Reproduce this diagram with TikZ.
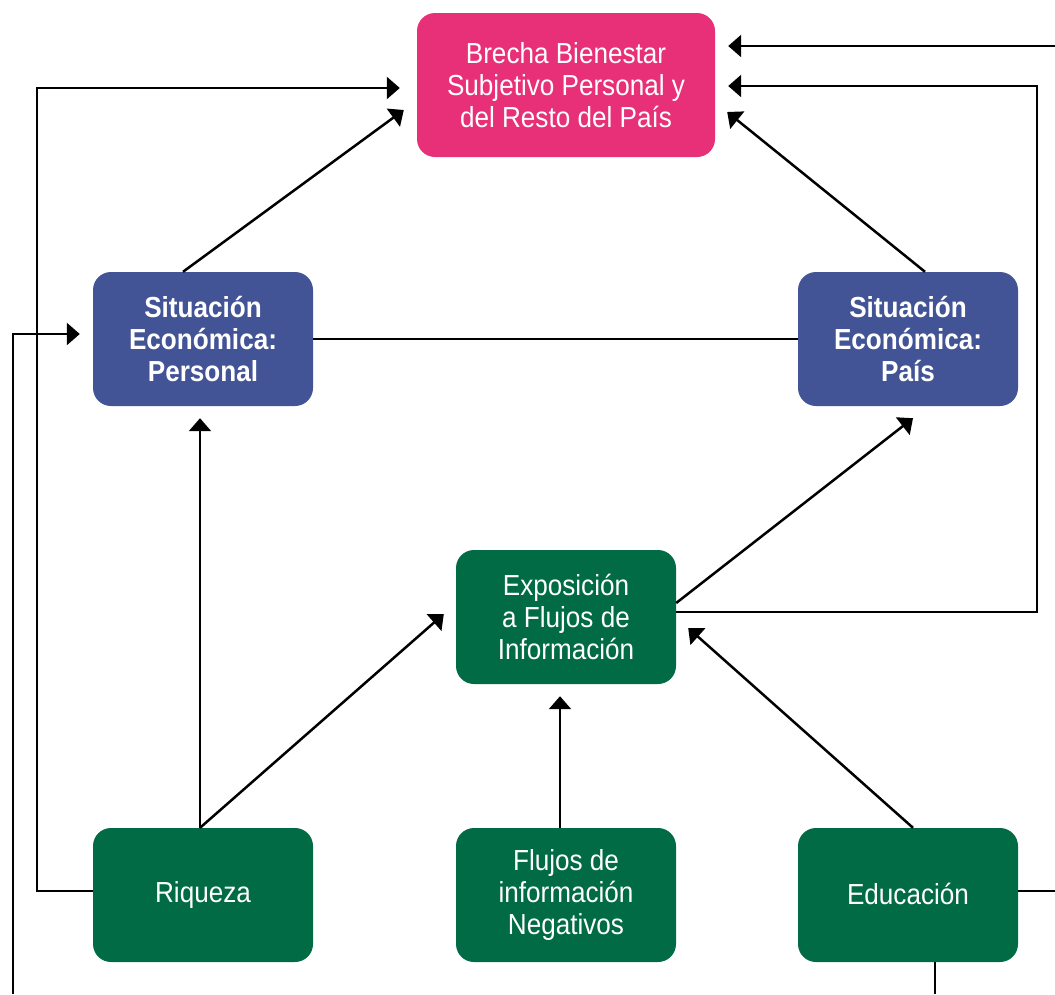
\documentclass[tikz,border=0pt]{standalone}
\usepackage{fontspec}
\setmainfont{Liberation Sans}[FakeStretch=0.9]
\usetikzlibrary{arrows.meta}
\definecolor{pinkc}{HTML}{E83078}
\definecolor{bluec}{HTML}{435496}
\definecolor{greenc}{HTML}{006B45}
\tikzset{
  box/.style={rounded corners=18pt, text=white, align=center, inner sep=0pt,
    font=\fontsize{29}{32}\selectfont},
  smallbox/.style={box, minimum width=220pt, minimum height=134pt},
  conn/.style={line width=2.5pt, draw=black},
  arr/.style={conn, -{Triangle[length=13pt,width=22pt]}},
}
\begin{document}
\begin{tikzpicture}[x=1pt,y=1pt]
\useasboundingbox (0,0) rectangle (1055,-994);
\node[box, fill=pinkc, minimum width=298pt, minimum height=144pt] (bre) at (566,-85)
  {Brecha Bienestar\\Subjetivo Personal y\\del Resto del País};
\node[smallbox, fill=bluec, font=\fontsize{29}{32}\selectfont\bfseries] (pers) at (203,-339)
  {Situación\\Económica:\\Personal};
\node[smallbox, fill=bluec, font=\fontsize{29}{32}\selectfont\bfseries] (pais) at (908,-339)
  {Situación\\Económica:\\País};
\node[smallbox, fill=greenc] (expo) at (566,-617)
  {Exposición\\a Flujos de\\Información};
\node[smallbox, fill=greenc] (riq) at (203,-895) {\raisebox{3pt}{Riqueza}};
\node[smallbox, fill=greenc] (flu) at (566,-895)
  {Flujos de\\información\\Negativos};
\node[smallbox, fill=greenc] (educ) at (908,-895) {\raisebox{3pt}{Educación}};

\coordinate (c1) at (1037,-86);
\coordinate (c2) at (37,-88);
\coordinate (redge) at (1055,-891);
\coordinate (rtop) at (1055,-46);
\coordinate (bedge) at (935,-994);
\coordinate (ledge) at (13,-994);
\coordinate (c3) at (13,-334);

\draw[arr] ([xshift=-20pt]pers.north) -- ([xshift=-13pt,yshift=-25pt]bre.west);
\draw[arr] ([xshift=17pt]pais.north) -- ([xshift=12pt,yshift=-27pt]bre.east);
\draw[conn] (pers.east) -- (pais.west);
\draw[arr] ([xshift=-3pt]riq.north) -- ([xshift=-3pt,yshift=-12pt]pers.south);
\draw[arr] ([xshift=-3pt]riq.north) -- ([xshift=-12pt,yshift=3pt]expo.west);
\draw[arr] ([xshift=-6pt]flu.north) -- ([xshift=-6pt,yshift=-12pt]expo.south);
\draw[arr] ([xshift=5pt]educ.north) -- ([xshift=12pt,yshift=-11pt]expo.east);
\draw[arr] ([yshift=14pt]expo.east) -- ([xshift=5pt,yshift=-12pt]pais.south);
\draw[arr] ([yshift=5pt]expo.east) -| (c1) -- ([xshift=13pt,yshift=-1pt]bre.east);
\draw[arr] ([yshift=4pt]riq.west) -| (c2) -- ([xshift=-17pt,yshift=-3pt]bre.west);
\draw[conn] ([yshift=4pt]educ.east) -- (redge);
\draw[arr] (rtop) -- ([xshift=13pt,yshift=39pt]bre.east);
\draw[conn] ([xshift=27pt]educ.south) -- (bedge);
\draw[arr] (ledge) -- (c3) -- ([xshift=-13pt,yshift=5pt]pers.west);
\end{tikzpicture}
\end{document}
